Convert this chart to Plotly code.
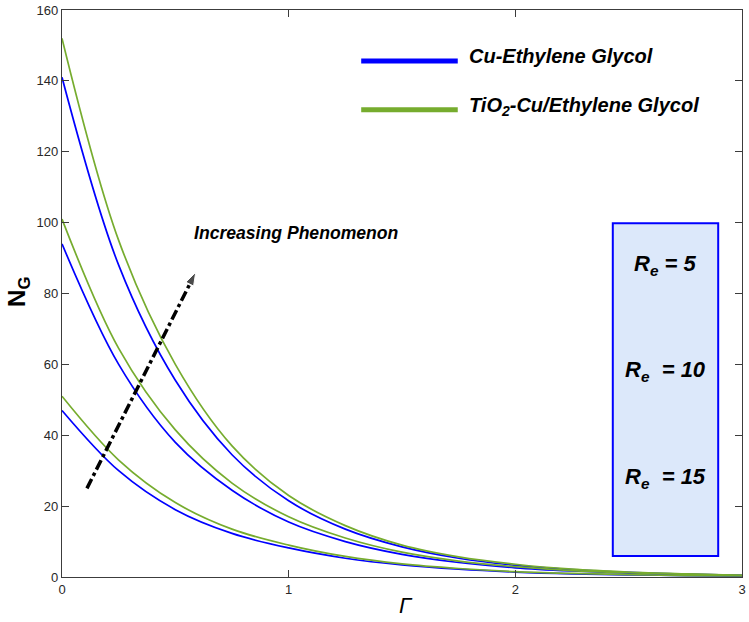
import plotly.graph_objects as go

BLUE = 'rgb(0,0,255)'
GREEN = 'rgb(118,172,46)'
FONT = 'Liberation Sans, Arial, sans-serif'

gamma = [0, 0.25, 0.5, 0.75, 1.0, 1.25, 1.5, 1.75, 2.0, 2.25, 2.5, 2.75, 3.0]

# Cu-Ethylene Glycol (blue)
cu_re5 = [47, 30, 19, 12.3, 8.2, 5.3, 3.4, 2.2, 1.4, 0.9, 0.6, 0.4, 0.25]
cu_re10 = [94, 60, 38, 24.5, 15.5, 10, 6.4, 4.1, 2.6, 1.7, 1.1, 0.7, 0.4]
cu_re15 = [141, 88, 55.5, 34.5, 21.5, 13.5, 8.5, 5.3, 3.3, 2.1, 1.3, 0.8, 0.5]

# TiO2-Cu/Ethylene Glycol (green)
tio2_re5 = [51, 33, 21, 13.5, 9, 5.8, 3.7, 2.4, 1.5, 1.0, 0.65, 0.4, 0.3]
tio2_re10 = [101, 64.5, 41.5, 26.5, 17, 11, 7, 4.5, 2.9, 1.8, 1.2, 0.8, 0.5]
tio2_re15 = [152, 95, 60, 37, 23, 14.5, 9, 5.7, 3.6, 2.2, 1.4, 0.9, 0.5]

re_labels = ['R<sub>e</sub> = 5', 'R<sub>e</sub>  = 10', 'R<sub>e</sub>  = 15']

arrow_x = [0.11, 0.59]
arrow_y = [25, 86]

fig = go.Figure()

for ys in [cu_re5, cu_re10, cu_re15]:
    fig.add_trace(go.Scatter(x=gamma, y=ys, mode='lines', line=dict(color=BLUE, width=1.7, shape='spline'),
                             showlegend=False, hoverinfo='skip'))
for ys in [tio2_re5, tio2_re10, tio2_re15]:
    fig.add_trace(go.Scatter(x=gamma, y=ys, mode='lines', line=dict(color=GREEN, width=1.7, shape='spline'),
                             showlegend=False, hoverinfo='skip'))

# dash-dot arrow
fig.add_trace(go.Scatter(x=arrow_x, y=arrow_y, mode='lines+markers',
                         line=dict(color='black', width=3.5, dash='dashdot'),
                         marker=dict(symbol=['circle', 'arrow'], size=[0, 14], color='black',
                                     angleref='previous'),
                         showlegend=False, hoverinfo='skip'))

# custom legend
fig.add_shape(type='line', xref='paper', yref='paper', x0=0.440, x1=0.582, y0=0.910, y1=0.910,
              line=dict(color=BLUE, width=5))
fig.add_shape(type='line', xref='paper', yref='paper', x0=0.440, x1=0.582, y0=0.824, y1=0.824,
              line=dict(color=GREEN, width=5))
fig.add_annotation(xref='paper', yref='paper', x=0.596, y=0.918, xanchor='left', yanchor='middle',
                   text='<b><i>Cu-Ethylene Glycol</i></b>', showarrow=False,
                   font=dict(family=FONT, size=20, color='black'))
fig.add_annotation(xref='paper', yref='paper', x=0.596, y=0.830, xanchor='left', yanchor='middle',
                   text='<b><i>TiO<sub>2</sub>-Cu/Ethylene Glycol</i></b>', showarrow=False,
                   font=dict(family=FONT, size=20, color='black'))

fig.add_annotation(xref='paper', yref='paper', x=0.1915, y=0.606, xanchor='left', yanchor='middle',
                   text='<b><i>Increasing Phenomenon</i></b>', showarrow=False,
                   font=dict(family=FONT, size=17.6, color='black'))

# Re box
fig.add_shape(type='rect', xref='paper', yref='paper', x0=0.810, x1=0.965, y0=0.037, y1=0.624,
              line=dict(color=BLUE, width=2), fillcolor='rgb(220,232,250)', layer='above')
for lbl, yp in zip(re_labels, [0.551, 0.363, 0.175]):
    fig.add_annotation(xref='paper', yref='paper', x=0.888, y=yp, xanchor='center', yanchor='middle',
                       text='<b><i>' + lbl + '</i></b>', showarrow=False,
                       font=dict(family=FONT, size=22, color='black'))

# axis titles
fig.add_annotation(xref='paper', yref='paper', x=-0.063, y=0.503, xanchor='center', yanchor='middle',
                   textangle=-90, text='N<sub>G</sub>', showarrow=False,
                   font=dict(family=FONT, size=24, color='black', weight='bold'))
fig.add_annotation(xref='paper', yref='paper', x=0.506, y=-0.051, xanchor='center', yanchor='middle',
                   text='<i>Γ</i>', showarrow=False,
                   font=dict(family=FONT, size=22, color='black'))

axis_common = dict(showgrid=False, zeroline=False, showline=True, linecolor='rgb(60,60,60)', linewidth=1.2,
                   ticks='inside', ticklen=7, tickcolor='rgb(60,60,60)', mirror='allticks',
                   tickfont=dict(family=FONT, size=13, color='rgb(40,40,40)'))

fig.update_layout(
    width=749, height=622,
    margin=dict(l=62, r=3, t=8, b=45),
    plot_bgcolor='white', paper_bgcolor='white',
    xaxis=dict(range=[0, 3], dtick=1, **axis_common),
    yaxis=dict(range=[0, 160], dtick=20, **axis_common),
)

fig.write_html("out.html", config={'displayModeBar': False},
               post_script="document.body.style.margin='0px';")
